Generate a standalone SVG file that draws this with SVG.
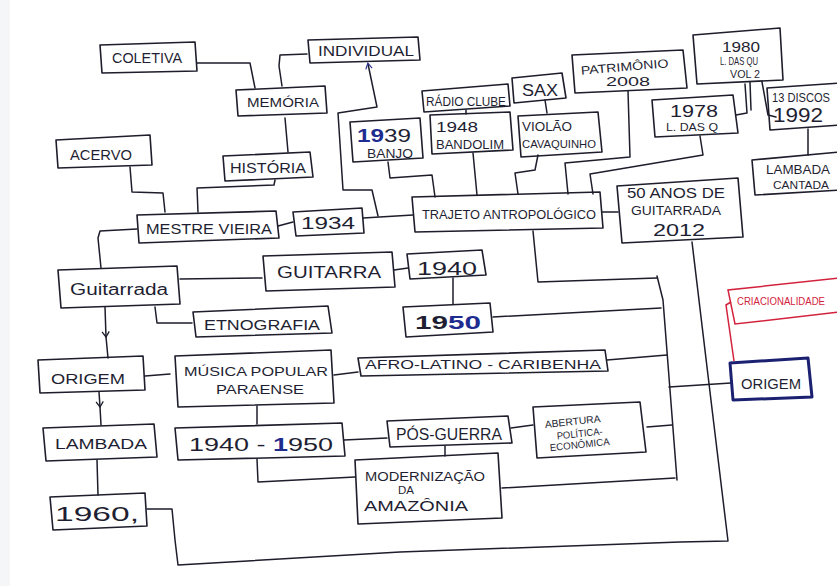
<svg xmlns="http://www.w3.org/2000/svg" width="837" height="586" viewBox="0 0 837 586">
<defs>
<style>
.box{fill:none;stroke:#1d1d2c;stroke-width:1.6;stroke-linejoin:round}
.ln{fill:none;stroke:#1d1d2c;stroke-width:1.5;stroke-linecap:round;stroke-linejoin:round}
.red{fill:none;stroke:#d3223c;stroke-width:1.5}
.t{font-family:"Liberation Sans","DejaVu Sans",sans-serif;fill:#1f1f33;text-anchor:middle}
.tb{fill:#1e2b8f;font-weight:bold}
</style>
<marker id="mid" viewBox="0 0 10 10" refX="7" refY="5" markerWidth="9" markerHeight="9" orient="auto" markerUnits="userSpaceOnUse">
<path d="M1,1 L7,5 L1,9" fill="none" stroke="#1d1d2c" stroke-width="1.4"/>
</marker>
<marker id="up" viewBox="0 0 10 10" refX="7" refY="5" markerWidth="8" markerHeight="8" orient="auto-start-reverse" markerUnits="userSpaceOnUse">
<path d="M1,1 L8,5 L1,9" fill="none" stroke="#2a3490" stroke-width="1.5"/>
</marker>
</defs>
<rect width="837" height="586" fill="#ffffff"/>
<rect x="0" y="0" width="10" height="586" fill="#f4f6f7"/>

<g id="connectors">
<path class="ln" d="M197,63 L250,63 L255,88"/>
<path class="ln" d="M307,54 L280,55 L279,66 L282,86"/>
<path class="ln" d="M285,118 L288,152"/>
<path class="ln" d="M275,180 L274,185 L197,188 L198,212"/>
<path class="ln" d="M130,167 L132,192 L163,193 L165,212"/>
<path class="ln" d="M368,64 L377,107 L338,113 L343,190 L372,190 L378,216" marker-start="url(#up)"/>
<path class="ln" d="M388,162 L390,178 L432,175 L435,197"/>
<path class="ln" d="M466,110 L466,114"/>
<path class="ln" d="M473,153 L477,195"/>
<path class="ln" d="M545,100 L547,113"/>
<path class="ln" d="M538,155 L535,170 L515,173 L518,194"/>
<path class="ln" d="M628,91 L630,157 L565,163 L568,194"/>
<path class="ln" d="M700,136 L703,155 L590,174 L593,194"/>
<path class="ln" d="M736,115 L747,113 L745,84"/>
<path class="ln" d="M750,82 L751,110"/>
<path class="ln" d="M762,82 L768,115 L776,117"/>
<path class="ln" d="M808,129 L808,155"/>
<path class="ln" d="M602,212 L618,212"/>
<path class="ln" d="M278,226 L293,222"/>
<path class="ln" d="M363,218 L413,215"/>
<path class="ln" d="M137,229 L100,231 L98,238 L101,268"/>
<path class="ln" d="M180,279 L262,278"/>
<path class="ln" d="M394,270 L408,268"/>
<path class="ln" d="M453,278 L453,304"/>
<path class="ln" d="M155,307 L157,323 L192,323"/>
<path class="ln" d="M105,307 L106,337 L108,358" marker-mid="url(#mid)"/>
<path class="ln" d="M533,231 L538,282 L657,278"/>
<path class="ln" d="M657,276 L663,300 L677,480"/>
<path class="ln" d="M493,317 L661,308"/>
<path class="ln" d="M607,360 L667,355"/>
<path class="ln" d="M647,427 L672,425"/>
<path class="ln" d="M502,488 L675,478"/>
<path class="ln" d="M669,387 L731,383"/>
<path class="ln" d="M692,242 L713,417 L728,541 L680,542 L400,552 L178,565 L175,540 L172,509 L147,509"/>
<path class="red" d="M734,361 L726,305 L731,302"/>
<path class="ln" d="M145,376 L170,374"/>
<path class="ln" d="M334,375 L358,372"/>
<path class="ln" d="M99,392 L100,407 L101,425" marker-mid="url(#mid)"/>
<path class="ln" d="M257,406 L257,424"/>
<path class="ln" d="M97,460 L98,495"/>
<path class="ln" d="M344,440 L387,438"/>
<path class="ln" d="M511,428 L533,425"/>
<path class="ln" d="M445,446 L445,456"/>
<path class="ln" d="M257,459 L258,482 L355,477"/>
</g>

<g id="n-coletiva"><path class="box" d="M100,45 L195,42 L197,71 L102,73 Z"/><text class="t" x="147" y="63" font-size="14" textLength="70" lengthAdjust="spacingAndGlyphs">COLETIVA</text></g>
<g id="n-individual"><path class="box" d="M308,40 L418,37 L420,60 L310,63 Z"/><text class="t" x="366" y="56" font-size="14" textLength="96" lengthAdjust="spacingAndGlyphs">INDIVIDUAL</text></g>
<g id="n-memoria"><path class="box" d="M236,90 L325,86 L327,113 L238,116 Z"/><text class="t" x="283" y="107" font-size="13" textLength="72" lengthAdjust="spacingAndGlyphs">MEMÓRIA</text></g>
<g id="n-historia"><path class="box" d="M223,156 L310,152 L313,177 L225,181 Z"/><text class="t" x="268" y="173" font-size="15" textLength="76" lengthAdjust="spacingAndGlyphs">HISTÓRIA</text></g>
<g id="n-acervo"><path class="box" d="M56,140 L150,135 L152,165 L58,168 Z"/><text class="t" x="101" y="160" font-size="15" textLength="62" lengthAdjust="spacingAndGlyphs">ACERVO</text></g>
<g id="n-banjo"><path class="box" d="M350,122 L420,118 L423,158 L353,162 Z"/><text class="t" x="384" y="142" font-size="18" textLength="54" lengthAdjust="spacingAndGlyphs"><tspan class="tb">19</tspan>39</text><text class="t" x="390" y="158" font-size="13" textLength="46" lengthAdjust="spacingAndGlyphs">BANJO</text></g>
<g id="n-radio"><path class="box" d="M422,91 L508,84 L510,106 L424,112 Z"/><text class="t" x="466" y="106" font-size="12" textLength="80" lengthAdjust="spacingAndGlyphs">RÁDIO CLUBE</text></g>
<g id="n-bandolim"><path class="box" d="M430,115 L510,112 L513,150 L432,154 Z"/><text class="t" x="457" y="132" font-size="15" textLength="42" lengthAdjust="spacingAndGlyphs">1948</text><text class="t" x="470" y="149" font-size="12" textLength="68" lengthAdjust="spacingAndGlyphs">BANDOLIM</text></g>
<g id="n-sax"><path class="box" d="M512,78 L562,73 L566,98 L514,103 Z"/><text class="t" x="540" y="96" font-size="16" textLength="36" lengthAdjust="spacingAndGlyphs">SAX</text></g>
<g id="n-violao"><path class="box" d="M518,116 L598,112 L602,152 L521,157 Z"/><text class="t" x="547" y="131" font-size="12" textLength="50" lengthAdjust="spacingAndGlyphs">VIOLÃO</text><text class="t" x="559" y="148" font-size="11" textLength="74" lengthAdjust="spacingAndGlyphs">CAVAQUINHO</text></g>
<g id="n-patrimonio"><path class="box" d="M572,55 L683,50 L687,88 L575,93 Z"/><text class="t" x="625" y="71" font-size="12" textLength="88" lengthAdjust="spacingAndGlyphs" transform="rotate(-5 625 71)">PATRIMÔNIO</text><text class="t" x="628" y="86" font-size="13" textLength="44" lengthAdjust="spacingAndGlyphs">2008</text></g>
<g id="n-1980"><path class="box" d="M693,35 L780,28 L783,80 L697,84 Z"/><text class="t" x="741" y="52" font-size="15" textLength="38" lengthAdjust="spacingAndGlyphs">1980</text><text class="t" x="739" y="65" font-size="11" textLength="38" lengthAdjust="spacingAndGlyphs">L. DAS QU</text><text class="t" x="745" y="78" font-size="11" textLength="30" lengthAdjust="spacingAndGlyphs">VOL 2</text></g>
<g id="n-1978"><path class="box" d="M652,100 L733,95 L738,133 L655,137 Z"/><text class="t" x="694" y="117" font-size="16" textLength="48" lengthAdjust="spacingAndGlyphs">1978</text><text class="t" x="692" y="131" font-size="11" textLength="52" lengthAdjust="spacingAndGlyphs">L. DAS Q</text></g>
<g id="n-1992"><path class="box" d="M840,83 L767,88 L770,130 L840,125"/><text class="t" x="801" y="102" font-size="12" textLength="58" lengthAdjust="spacingAndGlyphs">13 DISCOS</text><text class="t" x="798" y="122" font-size="20" textLength="50" lengthAdjust="spacingAndGlyphs">1992</text></g>
<g id="n-cantada"><path class="box" d="M840,152 L752,160 L755,195 L840,190"/><text class="t" x="798" y="174" font-size="12" textLength="64" lengthAdjust="spacingAndGlyphs">LAMBADA</text><text class="t" x="801" y="189" font-size="11" textLength="56" lengthAdjust="spacingAndGlyphs">CANTADA</text></g>
<g id="n-trajeto"><path class="box" d="M412,197 L600,192 L603,228 L415,232 Z"/><text class="t" x="509" y="219" font-size="13" textLength="174" lengthAdjust="spacingAndGlyphs">TRAJETO ANTROPOLÓGICO</text></g>
<g id="n-50anos"><path class="box" d="M617,186 L738,178 L743,237 L622,243 Z"/><text class="t" x="676" y="198" font-size="14" textLength="98" lengthAdjust="spacingAndGlyphs">50 ANOS DE</text><text class="t" x="676" y="215" font-size="12" textLength="90" lengthAdjust="spacingAndGlyphs">GUITARRADA</text><text class="t" x="679" y="236" font-size="16" textLength="52" lengthAdjust="spacingAndGlyphs">2012</text></g>
<g id="n-mestre"><path class="box" d="M137,215 L276,211 L279,238 L139,243 Z"/><text class="t" x="209" y="234" font-size="14" textLength="126" lengthAdjust="spacingAndGlyphs">MESTRE VIEIRA</text></g>
<g id="n-1934"><path class="box" d="M293,212 L362,208 L364,233 L296,236 Z"/><text class="t" x="328" y="229" font-size="17" textLength="54" lengthAdjust="spacingAndGlyphs">1934</text></g>
<g id="n-guitarrada"><path class="box" d="M58,270 L177,266 L180,304 L61,308 Z"/><text class="t" x="119" y="295" font-size="16" textLength="98" lengthAdjust="spacingAndGlyphs">Guitarrada</text></g>
<g id="n-guitarra"><path class="box" d="M263,256 L392,252 L395,287 L266,291 Z"/><text class="t" x="329" y="278" font-size="16" textLength="104" lengthAdjust="spacingAndGlyphs">GUITARRA</text></g>
<g id="n-1940"><path class="box" d="M407,254 L482,250 L486,275 L410,279 Z"/><text class="t" x="447" y="275" font-size="18" textLength="60" lengthAdjust="spacingAndGlyphs">1940</text></g>
<g id="n-etnografia"><path class="box" d="M193,312 L328,306 L332,333 L196,337 Z"/><text class="t" x="262" y="330" font-size="15" textLength="116" lengthAdjust="spacingAndGlyphs">ETNOGRAFIA</text></g>
<g id="n-1950"><path class="box" d="M403,307 L490,303 L493,332 L406,337 Z"/><text class="t" x="448" y="329" font-size="19" font-weight="bold" textLength="66" lengthAdjust="spacingAndGlyphs">19<tspan class="tb">50</tspan></text></g>
<g id="n-criacionalidade"><path class="red" d="M840,278 L728,290 L735,324 L840,312"/><text x="781" y="305" font-family="Liberation Sans, DejaVu Sans, sans-serif" font-size="10" fill="#d3223c" text-anchor="middle" textLength="88" lengthAdjust="spacingAndGlyphs">CRIACIONALIDADE</text></g>
<g id="n-origem-r"><path class="box" d="M730,363 L808,358 L812,397 L733,400 Z" style="stroke:#1b2170;stroke-width:3"/><text class="t" x="771" y="389" font-size="14" textLength="60" lengthAdjust="spacingAndGlyphs">ORIGEM</text></g>
<g id="n-origem-l"><path class="box" d="M38,360 L143,356 L145,390 L40,393 Z"/><text class="t" x="88" y="384" font-size="15" textLength="74" lengthAdjust="spacingAndGlyphs">ORIGEM</text></g>
<g id="n-musica"><path class="box" d="M175,356 L331,350 L334,403 L178,407 Z"/><text class="t" x="256" y="376" font-size="13" textLength="144" lengthAdjust="spacingAndGlyphs">MÚSICA POPULAR</text><text class="t" x="260" y="394" font-size="13" textLength="88" lengthAdjust="spacingAndGlyphs">PARAENSE</text></g>
<g id="n-afro"><path class="box" d="M358,358 L605,350 L608,371 L361,376 Z"/><text class="t" x="483" y="369" font-size="13" textLength="236" lengthAdjust="spacingAndGlyphs">AFRO-LATINO - CARIBENHA</text></g>
<g id="n-lambada"><path class="box" d="M43,428 L154,424 L157,457 L46,461 Z"/><text class="t" x="101" y="449" font-size="15" textLength="92" lengthAdjust="spacingAndGlyphs">LAMBADA</text></g>
<g id="n-1940-1950"><path class="box" d="M175,428 L342,423 L345,456 L178,460 Z"/><text class="t" x="261" y="451" font-size="19" textLength="144" lengthAdjust="spacingAndGlyphs">1940 - <tspan class="tb">1</tspan>950</text></g>
<g id="n-posguerra"><path class="box" d="M387,421 L508,416 L512,443 L390,447 Z"/><text class="t" x="449" y="440" font-size="16" textLength="106" lengthAdjust="spacingAndGlyphs">PÓS-GUERRA</text></g>
<g id="n-abertura"><path class="box" d="M533,407 L640,402 L646,452 L537,458 Z"/><text class="t" x="573" y="425" font-size="10" textLength="56" lengthAdjust="spacingAndGlyphs" transform="rotate(-6 573 425)">ABERTURA</text><text class="t" x="580" y="437" font-size="10" textLength="46" lengthAdjust="spacingAndGlyphs" transform="rotate(-6 580 437)">POLÍTICA-</text><text class="t" x="580" y="448" font-size="10" textLength="60" lengthAdjust="spacingAndGlyphs" transform="rotate(-6 580 448)">ECONÔMICA</text></g>
<g id="n-modernizacao"><path class="box" d="M355,460 L498,453 L502,518 L358,524 Z"/><text class="t" x="425" y="481" font-size="12" textLength="120" lengthAdjust="spacingAndGlyphs">MODERNIZAÇÃO</text><text class="t" x="406" y="494" font-size="10" textLength="16" lengthAdjust="spacingAndGlyphs">DA</text><text class="t" x="416" y="511" font-size="14" textLength="104" lengthAdjust="spacingAndGlyphs">AMAZÔNIA</text></g>
<g id="n-1960"><path class="box" d="M50,497 L145,493 L147,526 L53,530 Z"/><text class="t" x="97" y="521" font-size="21" textLength="84" lengthAdjust="spacingAndGlyphs">1960,</text></g>
</svg>
